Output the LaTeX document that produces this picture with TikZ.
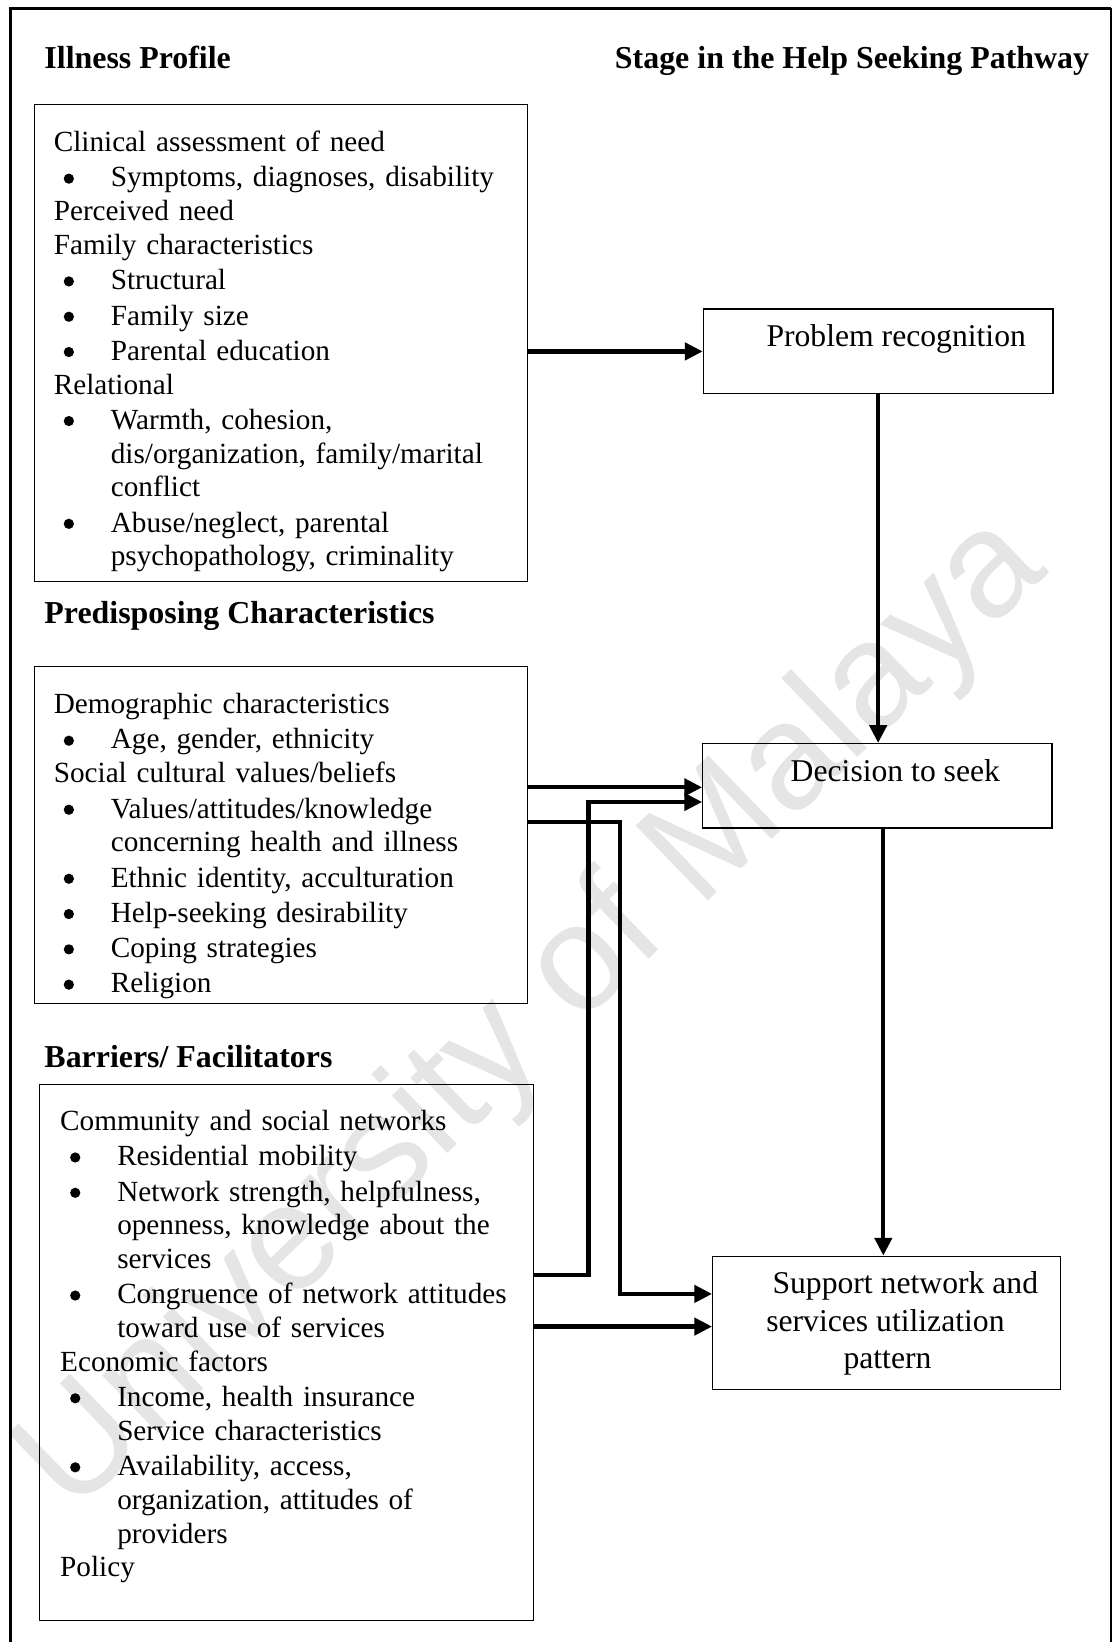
\documentclass[tikz,border=0pt]{standalone}
\usepackage{fontspec}
\setmainfont{Liberation Serif}
\newfontfamily\wmfont{Liberation Sans}
\usetikzlibrary{arrows.meta,calc}

% one drawing unit
\newlength\unitpx
\setlength\unitpx{0.43pt}

% list lines inside the three factor boxes
\newcommand\nl{\hfil\break}
\newcommand\listdot{\tikz[baseline=0pt]\fill (0,3.4pt) circle (2.1pt);}
\newcommand\plainline[1]{\par\noindent#1}
\newcommand\bulletline[1]{\par\vspace{1.5\unitpx}\noindent
  \hangindent=54.5\unitpx\hangafter=1
  \makebox[54.5\unitpx][l]{\hspace*{9.5\unitpx}\listdot}#1}

\tikzset{
  box/.style={draw, line width=0.5pt, inner sep=0pt, anchor=north west},
  head/.style={inner sep=0pt, font=\fontsize{13.1}{15}\selectfont\bfseries},
  listtext/.style={inner sep=0pt, anchor=base west, text width=470\unitpx,
    font=\fontsize{12}{13.85}\selectfont},
  stagetext/.style={inner sep=0pt, anchor=base, font=\fontsize{13}{15.5}\selectfont},
  link/.style={line width=1.75pt, line join=miter,
    -{Triangle[length=7.3pt,width=7pt]}},
  wm/.style={inner sep=0pt, text=black!10, font=\wmfont\fontsize{62}{62}\selectfont},
}

\begin{document}
\begin{tikzpicture}[x=\unitpx, y=-\unitpx]
\useasboundingbox (0,0) rectangle (1064,1568);

% watermark
\node[wm, rotate=44] (wmark) at (510,970) {University of Malaya};

% outer frame
\draw[line width=1.1pt] (10,1580) -- (10,8) -- (1061,8);
\draw[line width=0.6pt] (1061,8) -- (1061,1580);

% headings
\node[head, anchor=base west] (hill) at (42,65) {Illness Profile};
\node[head, anchor=base east] (hstage) at (1040.5,65) {Stage in the Help Seeking Pathway};
\node[head, anchor=base west] (hpre) at (42,595.4) {Predisposing Characteristics};
\node[head, anchor=base west] (hbar) at (42,1019) {Barriers/ Facilitators};

% factor boxes
\node[box, minimum width=471\unitpx, minimum height=456\unitpx] (ip) at (32,99) {};
\node[box, minimum width=471\unitpx, minimum height=322\unitpx] (pd) at (32,636) {};
\node[box, minimum width=471.5\unitpx, minimum height=512\unitpx] (bf) at (37.5,1035) {};

\node[listtext] (iptext) at (50.9,112.6) {%
  \plainline{Clinical assessment of need}
  \bulletline{Symptoms, diagnoses, disability}
  \plainline{Perceived need}
  \plainline{Family characteristics}
  \bulletline{Structural}
  \bulletline{Family size}
  \bulletline{Parental education}
  \plainline{Relational}
  \bulletline{Warmth, cohesion,\nl dis/organization, family/marital\nl conflict}
  \bulletline{Abuse/neglect, parental\nl psychopathology, criminality}\par};

\node[listtext] (pdtext) at (50.9,649.3) {%
  \plainline{Demographic characteristics}
  \bulletline{Age, gender, ethnicity}
  \plainline{Social cultural values/beliefs}
  \bulletline{Values/attitudes/knowledge\nl concerning health and illness}
  \bulletline{Ethnic identity, acculturation}
  \bulletline{Help-seeking desirability}
  \bulletline{Coping strategies}
  \bulletline{Religion}\par};

\node[listtext] (bftext) at (57,1047.3) {%
  \plainline{Community and social networks}
  \bulletline{Residential mobility}
  \bulletline{Network strength, helpfulness,\nl openness, knowledge about the\nl services}
  \bulletline{Congruence of network attitudes\nl toward use of services}
  \plainline{Economic factors}
  \bulletline{Income, health insurance\nl Service characteristics}
  \bulletline{Availability, access,\nl organization, attitudes of\nl providers}
  \plainline{Policy}\par};

% stage boxes
\node[box, minimum width=334\unitpx, minimum height=81\unitpx] (pr) at (671,294.5) {};
\node[box, minimum width=333.5\unitpx, minimum height=80.5\unitpx] (dec) at (670.5,709.5) {};
\node[box, minimum width=332\unitpx, minimum height=127\unitpx] (sup) at (680,1199) {};

\node[stagetext] (prtext) at (855.8,331) {Problem recognition};
\node[stagetext] (dectext) at (855,746) {Decision to seek};
\node[stagetext] (suptextA) at (864.5,1235) {Support network and};
\node[stagetext] (suptextB) at (845.5,1271) {services utilization};
\node[stagetext] (suptextC) at (847.5,1307) {pattern};

% connector end points
\coordinate (decA) at ([yshift=-1.5\unitpx]dec.west);
\coordinate (decB) at ([yshift=-15.5\unitpx]dec.west);
\coordinate (supA) at ([yshift=27.5\unitpx]sup.west);
\coordinate (supB) at ([yshift=-3.7\unitpx]sup.west);
\coordinate (pdA) at ([yshift=12.5\unitpx]pd.east);
\coordinate (bfA) at ([yshift=74.4\unitpx]bf.east);
\coordinate (riserA) at (562,0);
\coordinate (riserB) at (591.7,0);
\coordinate (dropx) at (843.5,0);

% connectors
\draw[link] (ip.east |- pr.west) -- (pr.west);
\draw[link] (pr.south) -- (pr.south |- dec.north);
\draw[link] (pd.east |- decA) -- (decA);
\draw[link] (bfA) -- (bfA -| riserA) -- (riserA |- decB) -- (decB);
\draw[link] (pdA) -- (pdA -| riserB) -- (riserB |- supA) -- (supA);
\draw[link] (bf.east |- supB) -- (supB);
\draw[link] (dec.south -| dropx) -- (sup.north -| dropx);
\end{tikzpicture}
\end{document}
